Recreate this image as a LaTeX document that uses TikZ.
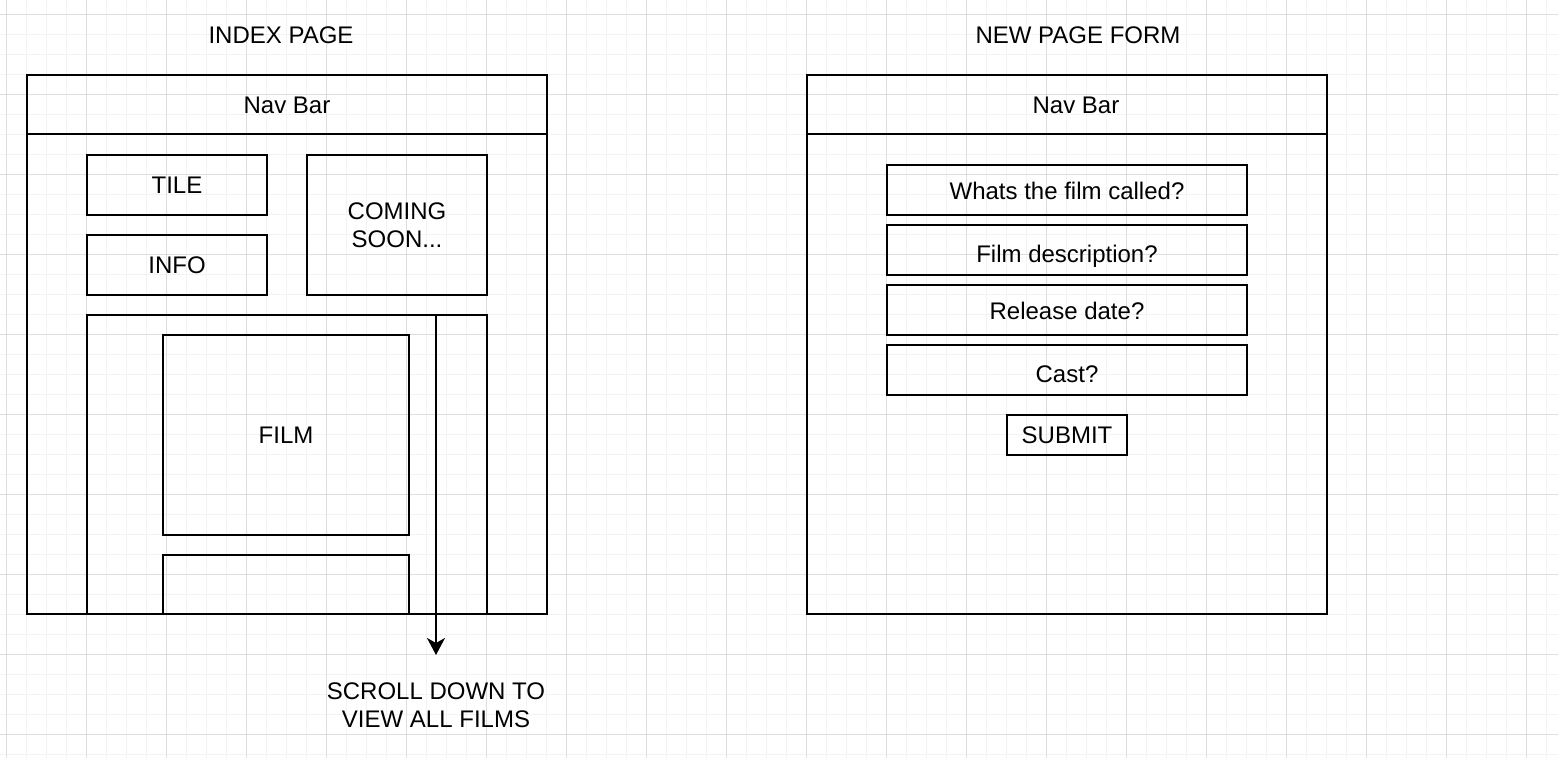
\documentclass[tikz,border=0pt]{standalone}
\usepackage{fontspec}
\setmainfont{Liberation Sans}
\usetikzlibrary{calc}
\usetikzlibrary{arrows.meta}
\definecolor{gridminor}{RGB}{243,243,243}
\definecolor{gridmajor}{RGB}{222,222,222}

\begin{document}
\begin{tikzpicture}[x=0.5pt,y=-0.5pt,
  frame/.style={draw=black,line width=1pt,inner sep=0pt,align=center,font=\fontsize{12}{14.2}\selectfont},
  label/.style={inner sep=0pt,align=center,font=\fontsize{12}{14.2}\selectfont}]
\useasboundingbox (0,0) rectangle (1558,758);
\fill[white] (0,0) rectangle (1558,758);
% background grid
\foreach \x in {0,...,77} \draw[gridminor,line width=0.5pt] (6.5+20*\x,0) --++(0,758);
\foreach \y in {0,...,37} \draw[gridminor,line width=0.5pt] (0,14.5+20*\y) --++(1558,0);
\foreach \x in {0,...,19} \draw[gridmajor,line width=0.5pt] (6.5+80*\x,0) --++(0,758);
\foreach \y in {0,...,9} \draw[gridmajor,line width=0.5pt] (0,14.5+80*\y) --++(1558,0);

% index page
\node[label] (indextitle) at (281,35) {INDEX PAGE};
\node[frame,minimum width=260pt,minimum height=269.5pt] (indexpage) at (287,344.5) {};
\draw[line width=1pt] ($(indexpage.north west)+(0,60)$) -- ($(indexpage.north east)+(0,60)$);
\node[label] (indexnav) at (287,105) {Nav Bar};
\node[frame,minimum width=90pt,minimum height=30pt] (tile) at (177,185) {TILE};
\node[frame,minimum width=90pt,minimum height=30pt] (info) at (177,265) {INFO};
\node[frame,minimum width=90pt,minimum height=70pt] (coming) at (397,225) {COMING\\SOON...};
\draw[line width=1pt] (87,614) |- (487,315) -- (487,614);
\node[frame,minimum width=123pt,minimum height=100pt] (film) at (286,435) {FILM};
\draw[line width=1pt] (163,614) |- (409,555) -- (409,614);
\coordinate (scrolltop) at (436,315);
\coordinate (scrollend) at (436,655);
\draw[line width=1pt,-{Stealth[length=8.5pt,width=9pt,inset=2.5pt]}] (scrolltop) -- (scrollend);
\node[label] (scrolltext) at (436,705) {SCROLL DOWN TO\\VIEW ALL FILMS};

% new page form
\node[label] (formtitle) at (1078,35) {NEW PAGE FORM};
\node[frame,minimum width=260pt,minimum height=269.5pt] (formpage) at (1067,344.5) {};
\draw[line width=1pt] ($(formpage.north west)+(0,60)$) -- ($(formpage.north east)+(0,60)$);
\node[label] (formnav) at (1076,105) {Nav Bar};
\foreach \n/\y/\d/\t in {name/190/1/Whats the film called?,desc/250/6/Film description?,date/310/1/Release date?,cast/370/4/Cast?}{
  \node[frame,minimum width=180pt,minimum height=25pt] (field\n) at (1067,\y) {};
  \node[label] (field\n text) at (1067,\y+\d) {\t};
}
\node[frame,minimum width=60pt,minimum height=20pt] (submit) at (1067,435) {SUBMIT};
\end{tikzpicture}
\end{document}
